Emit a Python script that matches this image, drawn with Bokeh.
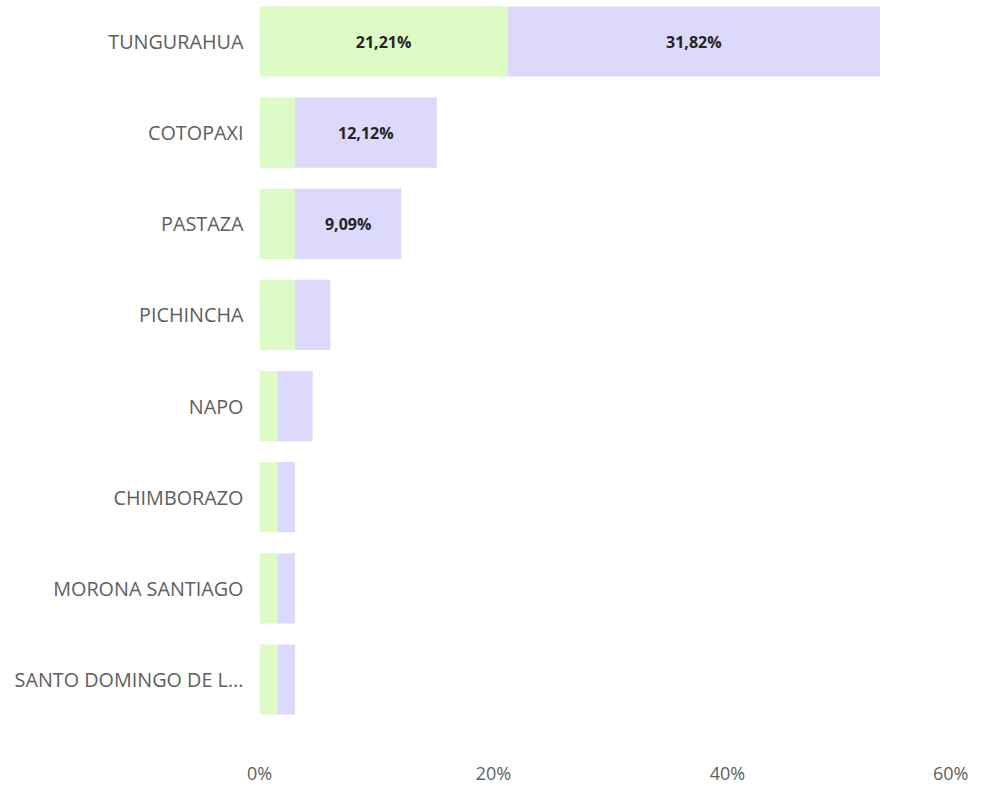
from bokeh.plotting import figure
from bokeh.models import ColumnDataSource, FactorRange, FixedTicker, PrintfTickFormatter
from bokeh.embed import file_html
from bokeh.resources import INLINE
from bokeh.core.properties import value

provinces = ["TUNGURAHUA", "COTOPAXI", "PASTAZA", "PICHINCHA", "NAPO",
             "CHIMBORAZO", "MORONA SANTIAGO", "SANTO DOMINGO DE L..."]
serie_1 = [21.21, 3.03, 3.03, 3.03, 1.52, 1.52, 1.52, 1.52]
serie_2 = [31.82, 12.12, 9.09, 3.03, 3.03, 1.52, 1.52, 1.52]
x_ticks = [0, 20, 40, 60]

series_names = ["serie_1", "serie_2"]
colors = ["#DDFBC5", "#DDD9FC"]

def fmt(v):
    return ("%.2f" % v).replace(".", ",") + "%"

src = ColumnDataSource(data=dict(prov=provinces, serie_1=serie_1, serie_2=serie_2))

factors = list(reversed(provinces))
p = figure(y_range=FactorRange(factors=factors, range_padding=-0.05, range_padding_units="absolute"),
           x_range=(0, 60), width=968,
           frame_width=702, frame_height=720,
           min_border_left=259, min_border_right=7, min_border_top=0, min_border_bottom=0,
           output_backend="svg", toolbar_location=None, outline_line_color=None)

p.hbar_stack(series_names, y="prov", height=0.77, color=colors, source=src, line_color=None)

# data labels for segments large enough
lx, ly, lt = [], [], []
for i, prov in enumerate(provinces):
    a, b = serie_1[i], serie_2[i]
    if a >= 9:
        lx.append(a / 2); ly.append(prov); lt.append(fmt(a))
    if b >= 9:
        lx.append(a + b / 2); ly.append(prov); lt.append(fmt(b))
lsrc = ColumnDataSource(data=dict(x=lx, y=ly, t=lt))
p.text(x="x", y="y", text="t", source=lsrc, text_align="center", text_baseline="middle",
       text_font=value("Open Sans"), text_font_size="16px", text_font_style="bold",
       text_color="#252423")

p.xgrid.visible = False
p.ygrid.visible = False

p.xaxis.ticker = FixedTicker(ticks=x_ticks)
p.xaxis.formatter = PrintfTickFormatter(format="%d%%")
p.xaxis.axis_line_color = None
p.xaxis.major_tick_line_color = None
p.xaxis.minor_tick_line_color = None
p.xaxis.major_label_standoff = 34
p.xaxis.major_label_text_font = "Open Sans"
p.xaxis.major_label_text_font_size = "18px"
p.xaxis.major_label_text_color = "#605E5C"

p.yaxis.axis_line_color = None
p.yaxis.major_tick_line_color = None
p.yaxis.minor_tick_line_color = None
p.yaxis.major_label_standoff = 10
p.yaxis.major_label_text_font = "Open Sans"
p.yaxis.major_label_text_font_size = "19.8px"
p.yaxis.major_label_text_color = "#605E5C"

open("out.html", "w").write(file_html(p, INLINE))
